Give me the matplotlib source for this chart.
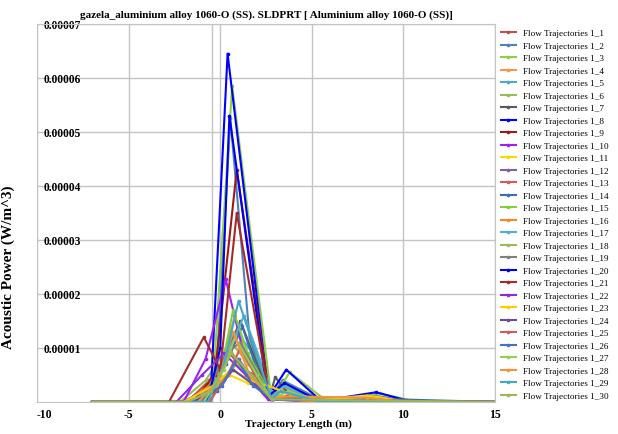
import matplotlib
matplotlib.use('Agg')
from matplotlib import pyplot as plt

plt.rcParams['font.family'] = ['Liberation Serif', 'DejaVu Serif']

# acoustic power values are listed in units of 1e-5 W/m^3
unit = 1e-5

labels = ['Flow Trajectories 1_{}'.format(i) for i in range(1, 31)]

colors = ['#C0504D', '#4F81BD', '#8ED044', '#F79646', '#4BACC6', '#9BBB59',
          '#595959', '#0000FF', '#9B1B1B', '#A020F0', '#FFD700', '#7F5FA8',
          '#D25A5A', '#3E6DB5', '#7FD13B', '#F28A1E', '#4FB3CF', '#9BBB59',
          '#7F7F7F', '#0000EE', '#A52A2A', '#8E2BE2', '#FFCC00', '#6B4C9A',
          '#CD5C5C', '#4472C4', '#92D050', '#F5923E', '#45A6C9', '#99B955']

lengths = [
    [-7, -1.8, -0.6, 0.5, 1.3, 2.2, 2.8, 4.0, 5.6, 15],
    [-7, -1.2, -0.2, 0.55, 1.6, 2.7, 3.4, 5.6, 8.4, 10.5, 15],
    [-7, -0.6, -0.4, 0.65, 2.8, 3.8, 5.8, 8.7, 10.8, 15],
    [-7, -1.6, -0.3, 0.8, 1.5, 2.2, 2.7, 3.6, 5.5, 8.2, 10, 15],
    [-7, -1.4, 0.0, 0.9, 2.0, 2.8, 4.2, 6, 15],
    [-7, -2.2, -0.8, 0.6, 1.8, 2.8, 5.5, 15],
    [-7, -1.0, 0.2, 1.1, 2.7, 3.0, 3.6, 5.5, 8.3, 10.5, 15],
    [-7, -2, -0.5, 0.4, 2.65, 3.6, 5.5, 8.5, 10.5, 15],
    [-7, -1.5, -0.3, 0.9, 2.7, 4.5, 6, 15],
    [-7, -2, -0.8, 0.3, 1.2, 2.6, 5, 15],
    [-7, -1.7, -0.5, 0.5, 1.5, 2.5, 3.5, 5.5, 8, 10, 15],
    [-7, -1.2, 0.2, 1.0, 2.0, 2.8, 5, 15],
    [-7, -1.3, -0.1, 0.8, 1.9, 2.8, 15],
    [-7, -0.8, 0.3, 1.2, 2.2, 2.9, 4, 15],
    [-7, -1.1, 0, 0.7, 1.5, 2.8, 3.5, 5.5, 15],
    [-7, -1.9, -0.6, 0.5, 1.4, 2.2, 2.7, 5, 15],
    [-7, -0.5, 0.4, 1.3, 2.9, 3.4, 5.5, 15],
    [-7, -1.5, -0.2, 0.9, 2.0, 2.8, 15],
    [-7, -1.0, 0.3, 1.1, 2.8, 15],
    [-7, -0.7, 0.0, 0.5, 2.6, 3.5, 5.5, 15],
    [-7, -2.8, -0.9, 0.0, 0.9, 2.7, 15],
    [-7, -2.4, -1.0, 0.2, 1.4, 2.6, 15],
    [-7, -2, -0.4, 0.6, 1.6, 2.6, 3.8, 5.5, 8.5, 10.2, 15],
    [-7, -1.6, -0.2, 0.7, 1.7, 2.8, 15],
    [-7, -0.6, 0.4, 1.1, 2.1, 2.8, 15],
    [-7, -1.3, 0.1, 0.9, 1.8, 2.9, 15],
    [-7, -0.9, 0.2, 0.8, 2.0, 2.8, 3.7, 5.5, 15],
    [-7, -1.2, -0.1, 0.7, 1.6, 2.7, 4.5, 8, 10, 15],
    [-7, -0.7, 0.2, 1.0, 2.8, 3.3, 5.5, 15],
    [-7, -1.8, -0.5, 0.6, 1.7, 2.8, 15],
]

powers = [
    [0, 0, 0.4, 0.9, 0.6, 0.45, 0.05, 0.1, 0, 0],
    [0, 0, 0.6, 5.25, 1.2, 0.05, 0.4, 0.02, 0.12, 0, 0],
    [0, 0, 0.3, 5.85, 0.05, 0.55, 0.02, 0.16, 0, 0],
    [0, 0, 0.3, 1.6, 0.7, 0.5, 0.1, 0.25, 0.02, 0.1, 0, 0],
    [0, 0, 0.5, 1.3, 0.8, 0.05, 0.1, 0, 0],
    [0, 0, 0.4, 1.1, 0.6, 0.05, 0, 0],
    [0, 0, 0.8, 1.5, 0.1, 0.46, 0.2, 0.02, 0.1, 0, 0],
    [0, 0, 0.3, 6.45, 0.1, 0.6, 0.02, 0.18, 0, 0],
    [0, 0, 0.5, 4.3, 0.08, 0.15, 0, 0],
    [0, 0, 0.8, 2.27, 1.0, 0.1, 0, 0],
    [0, 0, 0.2, 0.5, 0.35, 0.25, 0.1, 0.05, 0.12, 0, 0],
    [0, 0, 0.4, 0.8, 0.3, 0.05, 0, 0],
    [0, 0, 0.4, 1.2, 0.5, 0.05, 0],
    [0, 0, 0.7, 1.4, 0.4, 0.05, 0.1, 0],
    [0, 0, 0.5, 1.7, 0.9, 0.1, 0.3, 0, 0],
    [0, 0, 0.3, 1.0, 0.5, 0.35, 0.1, 0, 0],
    [0, 0, 0.9, 1.6, 0.1, 0.3, 0, 0],
    [0, 0, 0.3, 0.7, 0.4, 0.05, 0],
    [0, 0, 0.9, 1.1, 0.05, 0],
    [0, 0, 1.0, 5.3, 0.1, 0.35, 0, 0],
    [0, 0, 1.2, 0.6, 3.5, 0.05, 0],
    [0, 0, 0.5, 0.9, 0.5, 0.05, 0],
    [0, 0, 0.3, 0.6, 0.4, 0.3, 0.15, 0.05, 0.1, 0, 0],
    [0, 0, 0.2, 0.6, 0.35, 0.05, 0],
    [0, 0, 0.5, 1.0, 0.4, 0.05, 0],
    [0, 0, 0.3, 0.8, 0.3, 0.05, 0],
    [0, 0, 0.6, 1.2, 0.5, 0.05, 0.2, 0, 0],
    [0, 0, 0.4, 1.3, 0.5, 0.1, 0.1, 0.08, 0, 0],
    [0, 0, 0.7, 1.87, 0.05, 0.2, 0, 0],
    [0, 0, 0.2, 0.9, 0.5, 0.05, 0],
]

x_ticks = [-10, -5, 0, 5, 10, 15]
y_ticks = [1, 2, 3, 4, 5, 6, 7]
y_tick_labels = ['0.00001', '0.00002', '0.00003', '0.00004', '0.00005', '0.00006', '0.00007']

fig = plt.figure(figsize=(6.18, 4.35), dpi=100)
ax = fig.add_axes([0.06, 0.0736, 0.741, 0.869])

grid_color = '#C4C4C4'
ax.axvline(-0.45, color=grid_color, lw=1, zorder=0)

for x, y, c, lab in zip(lengths, powers, colors, labels):
    ax.plot(x, [v * unit for v in y], color=c, lw=1.5, marker='o', ms=1.6, label=lab)

ax.set_xlim(-10, 15)
ax.set_ylim(0, 7 * unit)
ax.set_xticks(x_ticks)
xt = ax.set_xticklabels([str(t) for t in x_ticks], fontweight='bold', fontsize=8.5)
xt[0].set_ha('left')
ax.set_yticks([t * unit for t in y_ticks])
ax.set_yticklabels(y_tick_labels, fontweight='bold', fontsize=8.3, ha='left')
ax.tick_params(axis='y', length=0, pad=-5)
ax.tick_params(axis='x', length=0, pad=4)
ax.grid(True, color=grid_color, lw=1)
ax.set_axisbelow(True)
for s in ax.spines.values():
    s.set_color(grid_color)

ax.set_title('gazela_aluminium alloy 1060-O (SS). SLDPRT [ Aluminium alloy 1060-O (SS)]',
             fontweight='bold', fontsize=8, pad=5)
ax.set_xlabel('Trajectory Length (m)', fontweight='bold', fontsize=8)
ax.xaxis.set_label_coords(0.57, -0.043, transform=ax.transAxes)
ax.set_ylabel('Acoustic Power (W/m^3)', fontweight='bold', fontsize=11)
ax.yaxis.set_label_coords(-0.048, 0.36, transform=ax.transAxes)

fig.legend(loc='upper left', bbox_to_anchor=(501 / 618, 1 - 30 / 435), frameon=False,
           fontsize=6.6, labelspacing=0.445, handlelength=1.6, handletextpad=0.8,
           borderpad=0, borderaxespad=0)

fig.savefig('out.png', dpi=100)
